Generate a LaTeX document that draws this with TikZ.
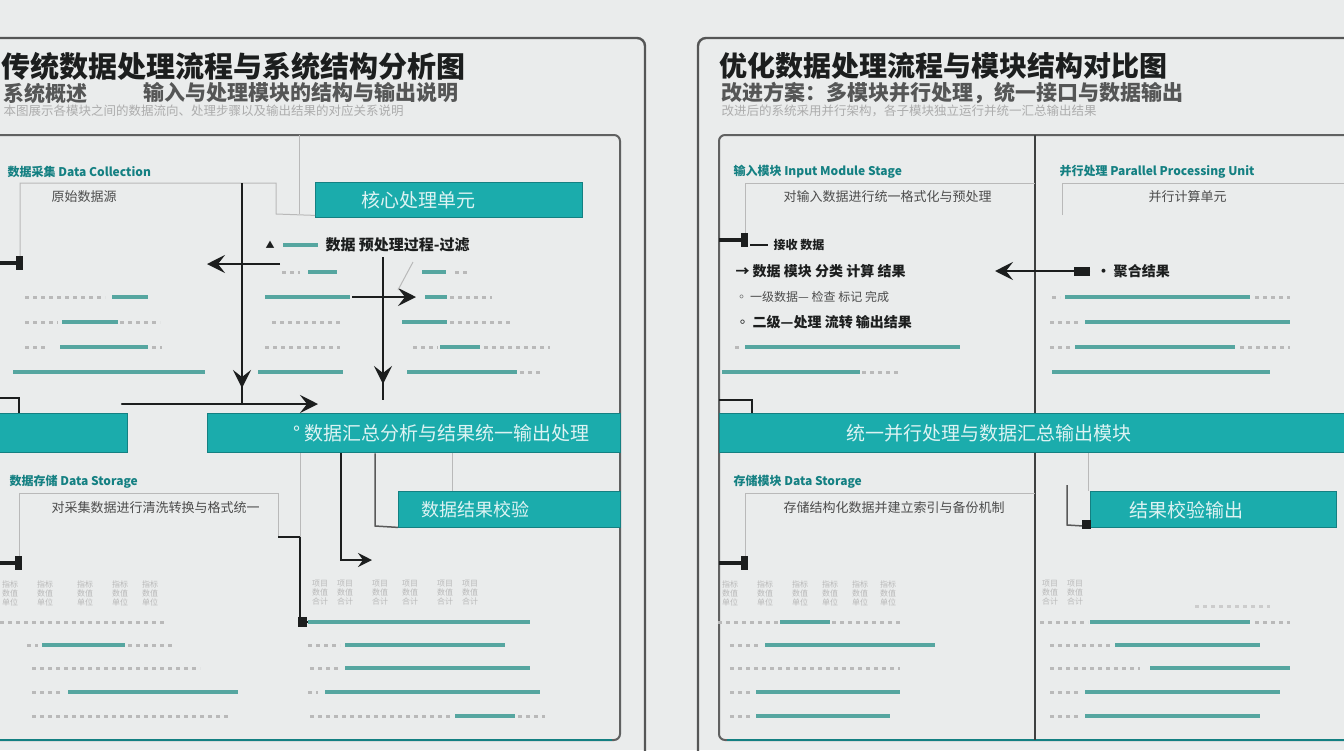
\documentclass[tikz,border=0pt]{standalone}
\usepackage{fontspec}
\setmainfont{Noto Sans CJK SC}
\usetikzlibrary{arrows.meta,positioning}

\definecolor{bgc}{RGB}{234,236,236}
\definecolor{tealc}{RGB}{27,172,172}
\definecolor{tealdk}{RGB}{20,128,130}
\definecolor{tealbar}{RGB}{86,166,160}
\definecolor{inkc}{RGB}{28,30,30}

\tikzset{
  outerframe/.style={draw=inkc!75, line width=2.4pt, rounded corners=8pt},
  panel/.style={draw=inkc!70, line width=2pt, rounded corners=6pt},
  hair/.style={draw=gray!55, line width=1pt},
  conn/.style={draw=inkc, line width=2.2pt},
  chevron/.style={-{Stealth[length=18pt,width=18pt,inset=7pt]}},
  stub/.style={draw=inkc, line width=3.2pt},
  tealbox/.style={fill=tealc, draw=tealdk, line width=1.4pt, anchor=north west, inner sep=0pt},
  boxtext/.style={text=white!85!tealc, font=\fontsize{19}{21}\selectfont, anchor=west},
  heading/.style={text=tealdk, font=\fontsize{12}{14}\selectfont\bfseries, anchor=west},
  inktext/.style={text=inkc, font=\fontsize{14}{16}\selectfont\bfseries, anchor=west},
  faint/.style={text=gray!60!black, font=\fontsize{13}{15}\selectfont, anchor=west},
  cell/.style={text=gray!55, font=\fontsize{8}{9}\selectfont, align=center},
  bar/.style={draw=tealbar, line width=3.5pt},
  dotrow/.style={draw=gray!55, line width=3pt, dash pattern=on 4pt off 4pt},
}

\begin{document}
\begin{tikzpicture}[x=1pt,y=-1pt]
    % Page and background
    \fill[bgc] (0,0) rectangle (1344,750);
    \useasboundingbox (0,0) rectangle (1344,750);

    % ================= Left panel =================
    % Outer frame and titles
    \draw[outerframe] (-10,38) -- (645,38) -- (645,770);
    \node[font=\fontsize{29}{31}\selectfont\bfseries, text=inkc, anchor=west] (ltitle) at (-2,66) {传统数据处理流程与系统结构分析图};
    \node[font=\fontsize{21}{23}\selectfont\bfseries, text=inkc!75, anchor=west] (lsubA) at (0,93) {系统概述};
    \node[font=\fontsize{21}{23}\selectfont\bfseries, text=inkc!75, anchor=west] (lsubB) at (140,93) {输入与处理模块的结构与输出说明};
    \node[font=\fontsize{12.5}{14}\selectfont, text=gray!65, anchor=west] (lnote) at (0,111) {本图展示各模块之间的数据流向、处理步骤以及输出结果的对应关系说明};

    % Inner panel
    \draw[panel] (-10,135) -- (620,135) -- (620,740) -- (-10,740);
    \draw[draw=tealdk, line width=2pt] (-10,740) -- (612,740);

    % Teal boxes
    \node[tealbox, minimum width=267pt, minimum height=35pt] (lcore) at (315,182) {};
    \node[boxtext] (lcoret) at (358,200) {核心处理单元};
    \node[tealbox, minimum width=137pt, minimum height=39pt] (lside) at (-10,413) {};
    \node[tealbox, minimum width=413pt, minimum height=39pt] (lsum) at (207,413) {};
    \node[boxtext] (lsumt) at (290,433) {° 数据汇总分析与结果统一输出处理};
    \node[tealbox, minimum width=222pt, minimum height=36pt] (lchk) at (398,491) {};
    \node[boxtext, font=\fontsize{18}{20}\selectfont] (lchkt) at (418,510) {数据结果校验};

    % Upper sub box
    \node[heading] (lhA) at (4,172) {数据采集 Data Collection};
    \node[faint] (lboxA) at (48,197) {原始数据源};
    \draw[hair] (20,262) -- (20,183) -- (276,183) -- (276,214) -- ([yshift=3pt]lcore.south west);
    \draw[hair] (299,135) -- (299,214);
    \draw[stub] (-5,263) -- (20,263);
    \fill[inkc] (16,256) rectangle (23,270);

    % Flow arrows of the upper part
    \coordinate (vA) at (242,183);
    \coordinate (vB) at (383,257);
    \draw[conn] (vA) -- (242,404);
    \draw[conn, chevron] (242,350) -- (242,388);
    \draw[conn] (vB) -- (383,400);
    \draw[conn, chevron] (383,345) -- (383,384);
    \draw[conn, chevron] (280,264) -- (207,264);
    \draw[conn, chevron] (352,297) -- (416,297);
    \draw[conn, chevron, line cap=round] (122,404) -- (318,404);
    \draw[stub, line width=2.4pt] (-5,398) -- (19,398) -- (lside.north -| 19,0);

    % Text rows of the upper part
    \node[inktext, font=\fontsize{9}{10}\selectfont] (ltri) at (262,245) {▲};
    \draw[bar] (283,245) -- (318,245);
    \node[inktext, font=\fontsize{15}{17}\selectfont\bfseries] (lrowA) at (322,245) {数据 预处理过程-过滤};
    \draw[hair] (398,290) -- (413,262);
    \foreach \y/\a/\b in {297/112/148, 322/62/118, 347/60/148, 372/13/205,
                          272/308/337, 297/265/350, 372/258/343,
                          272/422/446, 297/425/447, 322/402/447, 347/440/480, 372/407/517}
        \draw[bar] (\a,\y) -- (\b,\y);
    \foreach \y/\a/\b in {297/25/105, 322/25/58, 322/120/160, 347/25/45, 347/152/162,
                          272/282/300, 322/272/340, 347/265/340,
                          272/455/470, 297/450/492, 322/450/512, 347/413/438, 347/484/550, 372/520/540}
        \draw[dotrow] (\a,\y) -- (\b,\y);

    % Lower sub box
    \node[heading] (lhB) at (6,482) {数据存储 Data Storage};
    \node[faint] (lboxB) at (48,508) {对采集数据进行清洗转换与格式统一};
    \draw[hair] (19,560) -- (19,493) -- (278,493) -- (278,537);
    \draw[conn, line width=2pt] (278,537) -- (300,537) -- (300,622) -- (308,622);
    \fill[inkc] (298,617) rectangle (307,627);
    \draw[stub] (-5,563) -- (19,563);
    \fill[inkc] (15,556) rectangle (22,570);

    % Links under the summary box
    \draw[hair] ([xshift=93pt]lsum.south west) -- (300,537);
    \draw[conn, line width=2pt, -{Stealth[length=14pt,width=14pt,inset=5pt]}] ([xshift=134pt]lsum.south west) -- (341,560) -- (372,560);
    \draw[hair, draw=gray!70!black, line width=1.5pt] ([xshift=168pt]lsum.south west) -- (375,526) -- ([yshift=1pt]lchk.south west);
    \draw[hair] ([xshift=245pt]lsum.south west) -- ([xshift=54pt]lchk.north west);

    % Small table cells
    \foreach \x in {10,45,85,120,150} \node[cell] (lcl\x) at (\x,593) {指标\\数值\\单位};
    \foreach \x in {320,345,380,410,445,470} \node[cell] (lcr\x) at (\x,593) {项目\\数值\\合计};

    % Text rows of the lower part
    \foreach \y/\a/\b in {645/42/125, 692/68/238,
                          622/308/530, 645/345/505, 668/345/530, 692/325/540, 716/455/515}
        \draw[bar] (\a,\y) -- (\b,\y);
    \foreach \y/\a/\b in {622/0/165, 645/27/38, 645/128/175, 668/32/200, 692/32/62, 716/32/230,
                          645/308/340, 668/310/340, 692/308/318, 716/310/450, 716/518/545}
        \draw[dotrow] (\a,\y) -- (\b,\y);

    % ================= Right panel =================
    % Outer frame and titles
    \draw[outerframe] (1360,38) -- (698,38) -- (698,770);
    \node[font=\fontsize{28}{30}\selectfont\bfseries, text=inkc, anchor=west] (rtitle) at (716,66) {优化数据处理流程与模块结构对比图};
    \node[font=\fontsize{21}{23}\selectfont\bfseries, text=inkc!75, anchor=west] (rsub) at (718,93) {改进方案：多模块并行处理，统一接口与数据输出};
    \node[font=\fontsize{12.5}{14}\selectfont, text=gray!65, anchor=west] (rnote) at (718,111) {改进后的系统采用并行架构，各子模块独立运行并统一汇总输出结果};

    % Inner panel with divider
    \draw[panel] (1360,135) -- (719,135) -- (719,740) -- (1360,740);
    \draw[draw=tealdk, line width=2pt] (727,740) -- (1360,740);
    \draw[draw=inkc!85, line width=2.2pt] (1035,135) -- (1035,740);

    % Teal boxes
    \node[tealbox, minimum width=640pt, minimum height=39pt] (rsum) at (719,413) {};
    \node[boxtext] (rsumt) at (843,433) {统一并行处理与数据汇总输出模块};
    \node[tealbox, minimum width=246pt, minimum height=36pt] (rchk) at (1090,491) {};
    \node[boxtext] (rchkt) at (1126,510) {结果校验输出};

    % Upper sub boxes
    \node[heading] (rhA) at (730,172) {输入模块 Input Module Stage};
    \node[faint] (rboxA) at (780,197) {对输入数据进行统一格式化与预处理};
    \draw[hair] (745,240) -- (745,183) -- (1035,183);
    \draw[stub] (719,240) -- (745,240);
    \fill[inkc] (741,233) rectangle (748,247);
    \node[heading] (rhB) at (1056,172) {并行处理 Parallel Processing Unit};
    \node[faint] (rboxB) at (1145,197) {并行计算单元};
    \draw[hair] (1062,215) -- (1062,183) -- (1360,183);

    % Rows and arrow of the upper part
    \draw[conn, line width=1.6pt] (750,245) -- (768,245);
    \node[inktext, font=\fontsize{12}{14}\selectfont\bfseries] (rrowA) at (770,245) {接收 数据};
    \node[inktext] (rrowB) at (732,271) {→ 数据 模块 分类 计算 结果};
    \node[faint, font=\fontsize{12}{14}\selectfont] (rrowC) at (732,297) {◦ 一级数据— 检查  标记 完成};
    \node[inktext] (rrowD) at (732,322) {◦ 二级—处理 流转 输出结果};
    \draw[conn, chevron] (1090,271) -- (995,271);
    \fill[inkc] (1074,267) rectangle (1090,276);
    \node[inktext] (rrowE) at (1093,271) {· 聚合结果};
    \foreach \y/\a/\b in {347/745/960, 372/722/860,
                          297/1065/1250, 322/1085/1290, 347/1075/1235, 372/1052/1270}
        \draw[bar] (\a,\y) -- (\b,\y);
    \foreach \y/\a/\b in {347/735/742, 372/862/900,
                          297/1052/1060, 297/1255/1290, 322/1050/1080, 347/1050/1070, 347/1240/1290}
        \draw[dotrow] (\a,\y) -- (\b,\y);
    \draw[stub, line width=2.4pt] (719,400) -- (752,400) -- (rsum.north -| 752,0);

    % Lower sub box
    \node[heading] (rhC) at (730,482) {存储模块 Data Storage};
    \node[faint] (rboxC) at (780,508) {存储结构化数据并建立索引与备份机制};
    \draw[hair] (745,560) -- (745,493) -- (1035,493);
    \draw[stub] (719,563) -- (745,563);
    \fill[inkc] (741,556) rectangle (748,570);
    \draw[hair] ([xshift=369pt]rsum.south west) -- ([xshift=-2pt]rchk.north west);
    \draw[hair, draw=gray!70!black, line width=1.5pt] (1067,485) -- (1067,525) -- ([yshift=2pt]rchk.south west);
    \fill[inkc] (1082,520) rectangle (1091,529);

    % Small table cells
    \foreach \x in {730,765,800,830,860,888} \node[cell] (rcl\x) at (\x,593) {指标\\数值\\单位};
    \foreach \x in {1050,1075} \node[cell] (rcr\x) at (\x,593) {项目\\数值\\合计};
    \draw[dotrow, draw=gray!40] (1195,606) -- (1270,606);

    % Text rows of the lower part
    \foreach \y/\a/\b in {622/780/830, 645/765/935, 692/756/900, 716/756/890,
                          622/1090/1250, 645/1115/1260, 668/1150/1290, 692/1085/1280, 716/1085/1260}
        \draw[bar] (\a,\y) -- (\b,\y);
    \foreach \y/\a/\b in {622/718/778, 622/832/900, 645/730/760, 668/730/900, 692/730/752, 716/730/752,
                          622/1040/1088, 622/1255/1290, 645/1050/1110, 668/1050/1140, 692/1050/1080, 716/1050/1080}
        \draw[dotrow] (\a,\y) -- (\b,\y);
\end{tikzpicture}
\end{document}
